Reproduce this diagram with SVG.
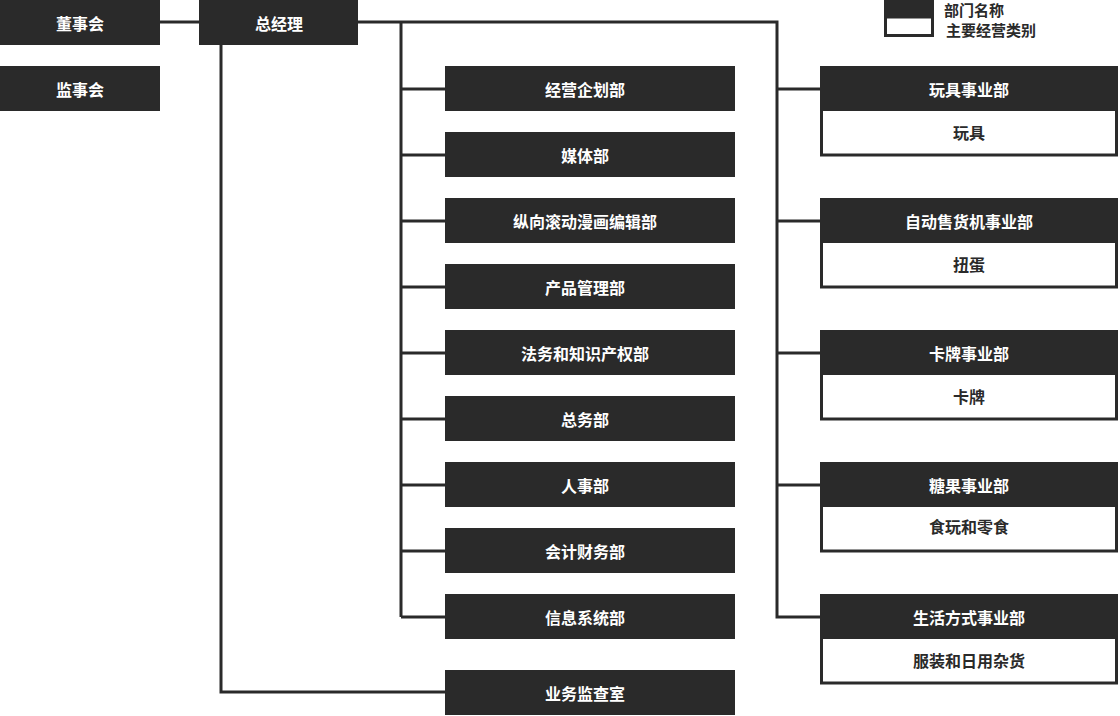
<svg xmlns="http://www.w3.org/2000/svg" width="1120" height="716" viewBox="0 0 1120 716">
<style>
.d{fill:#2a2a2a}
.w{fill:#fff;stroke:#2a2a2a;stroke-width:3}
.t{font-family:"Noto Sans CJK SC",sans-serif;font-size:16px;font-weight:bold;text-anchor:middle;dominant-baseline:central}
.tw{fill:#fff}
.tk{fill:#2a2a2a}
.lg{font-size:15px;text-anchor:start}
.c{fill:none;stroke:#2a2a2a;stroke-width:3}
</style>
<rect width="1120" height="716" fill="#fff"/>
<g id="connectors" class="c">
<path d="M160 22H199M358 22H777V617H820M401 22V617M401 89H445M401 155H445M401 221H445M401 287H445M401 353H445M401 419H445M401 485H445M401 551H445M401 617H445M221 45V692H445M777 89H820M777 221H820M777 353H820M777 485H820"/>
</g>
<g id="legend">
<rect x="884" y="0" width="50" height="17" class="d"/>
<rect x="885.5" y="17" width="47" height="18.5" class="w"/>
<text x="944" y="9.5" class="t tk lg">部门名称</text>
<text x="946" y="29.5" class="t tk lg">主要经营类别</text>
</g>
<g id="n1"><rect x="0" y="0" width="160" height="45" class="d"/><text x="80" y="22.5" class="t tw">董事会</text></g>
<g id="n2"><rect x="0" y="66" width="160" height="45" class="d"/><text x="80" y="88.5" class="t tw">监事会</text></g>
<g id="n3"><rect x="199" y="0" width="159" height="45" class="d"/><text x="279" y="22.5" class="t tw">总经理</text></g>
<g id="m1"><rect x="445" y="66" width="290" height="45" class="d"/><text x="585" y="88.5" class="t tw">经营企划部</text></g>
<g id="m2"><rect x="445" y="132" width="290" height="45" class="d"/><text x="585" y="154.5" class="t tw">媒体部</text></g>
<g id="m3"><rect x="445" y="198" width="290" height="45" class="d"/><text x="585" y="220.5" class="t tw">纵向滚动漫画编辑部</text></g>
<g id="m4"><rect x="445" y="264" width="290" height="45" class="d"/><text x="585" y="286.5" class="t tw">产品管理部</text></g>
<g id="m5"><rect x="445" y="330" width="290" height="45" class="d"/><text x="585" y="352.5" class="t tw">法务和知识产权部</text></g>
<g id="m6"><rect x="445" y="396" width="290" height="45" class="d"/><text x="585" y="418.5" class="t tw">总务部</text></g>
<g id="m7"><rect x="445" y="462" width="290" height="45" class="d"/><text x="585" y="484.5" class="t tw">人事部</text></g>
<g id="m8"><rect x="445" y="528" width="290" height="45" class="d"/><text x="585" y="550.5" class="t tw">会计财务部</text></g>
<g id="m9"><rect x="445" y="594" width="290" height="45" class="d"/><text x="585" y="616.5" class="t tw">信息系统部</text></g>
<g id="m10"><rect x="445" y="670" width="290" height="45" class="d"/><text x="585" y="692.5" class="t tw">业务监查室</text></g>
<g id="r1"><rect x="821.5" y="100" width="295" height="55" class="w"/><rect x="820" y="66" width="298" height="45" class="d"/><text x="969" y="88.5" class="t tw">玩具事业部</text><text x="969" y="132" class="t tk">玩具</text></g>
<g id="r2"><rect x="821.5" y="232" width="295" height="55" class="w"/><rect x="820" y="198" width="298" height="45" class="d"/><text x="969" y="220.5" class="t tw">自动售货机事业部</text><text x="969" y="264" class="t tk">扭蛋</text></g>
<g id="r3"><rect x="821.5" y="364" width="295" height="55" class="w"/><rect x="820" y="330" width="298" height="45" class="d"/><text x="969" y="352.5" class="t tw">卡牌事业部</text><text x="969" y="396" class="t tk">卡牌</text></g>
<g id="r4"><rect x="821.5" y="496" width="295" height="55" class="w"/><rect x="820" y="462" width="298" height="45" class="d"/><text x="969" y="484.5" class="t tw">糖果事业部</text><text x="969" y="526" class="t tk">食玩和零食</text></g>
<g id="r5"><rect x="821.5" y="628" width="295" height="55" class="w"/><rect x="820" y="594" width="298" height="45" class="d"/><text x="969" y="616.5" class="t tw">生活方式事业部</text><text x="969" y="660" class="t tk">服装和日用杂货</text></g>
</svg>
